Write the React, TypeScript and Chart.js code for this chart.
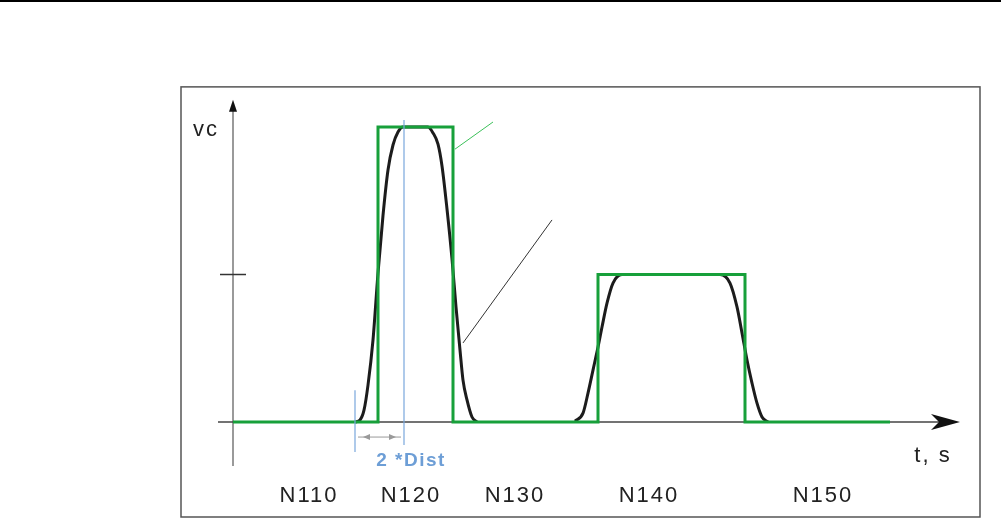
import React, { useEffect, useRef } from "react";
import { Chart, registerables } from "chart.js";
Chart.register(...registerables);

// Commanded velocity (green step profile): time, value
const commandT = [0, 14.5, 14.5, 22, 22, 36.5, 36.5, 51.2, 51.2, 65.7];
const commandV = [0, 0, 1, 1, 0, 0, 0.5, 0.5, 0, 0];

// Actual (smoothed) velocity, first block
const actual1T = [12.2, 12.7, 13.1, 13.5, 14.0, 14.5, 15.0, 15.5, 16.0, 16.5, 17.0, 19.5, 20.0, 20.5, 20.9, 21.4, 21.9, 22.3, 22.7, 23.0, 23.4, 23.9, 24.4];
const actual1V = [0, 0.007, 0.04, 0.125, 0.278, 0.505, 0.7, 0.854, 0.939, 0.983, 1, 1, 0.98, 0.942, 0.868, 0.722, 0.553, 0.39, 0.244, 0.142, 0.075, 0.017, 0];
// Actual velocity, second block
const actual2T = [34.2, 35.0, 35.5, 36.0, 36.5, 36.9, 37.4, 38.0, 38.9, 48.7, 49.7, 50.4, 50.9, 51.4, 51.9, 52.4, 52.9, 53.5];
const actual2V = [0.003, 0.03, 0.098, 0.176, 0.254, 0.322, 0.403, 0.471, 0.5, 0.5, 0.471, 0.39, 0.302, 0.21, 0.132, 0.064, 0.017, 0];

// Block labels along the time axis
const blockLabels = ["N110", "N120", "N130", "N140", "N150"];
const blockCenters = [7.6, 17.8, 28.2, 41.6, 59.0];
const blockLabelV = -0.25;

// Axis extents / annotations (data units)
const axisYRange = [-0.149, 1.092];
const axisXRange = [-1.5, 72.7];
const yTickV = 0.5;
const distStartT = 12.2;
const distEndT = 17.1;

const X_MIN = -23.3;
const X_MAX = 76.8;
const Y_MIN = -0.3525;
const Y_MAX = 1.4305;

const GREEN = "#17a03a";
const BLACK = "#1c1c1c";
const BLUE = "#7aa7dc";
const BLUE_TEXT = "#6d9ed6";
const FONT = "'Liberation Sans', Arial, sans-serif";

const overlay = {
  id: "overlay",
  beforeDatasetsDraw(chart: any) {
    const { ctx } = chart;
    const X = (t: number) => chart.scales.x.getPixelForValue(t);
    const Y = (v: number) => chart.scales.y.getPixelForValue(v);
    ctx.save();
    // top rule of page
    ctx.fillStyle = "#000";
    ctx.fillRect(0, 0, chart.width, 2);
    // frame
    ctx.strokeStyle = "#555";
    ctx.lineWidth = 1.5;
    const fl = X(-5.2), fr = X(74.7), ft = Y(1.136), fb = Y(-0.322);
    ctx.strokeRect(fl, ft, fr - fl, fb - ft);

    // y axis
    ctx.strokeStyle = "#9a9a9a";
    ctx.lineWidth = 2;
    ctx.beginPath();
    ctx.moveTo(X(0), Y(axisYRange[0]));
    ctx.lineTo(X(0), Y(axisYRange[1]) + 6);
    ctx.stroke();
    // y arrowhead
    ctx.fillStyle = "#111";
    const tipY = Y(axisYRange[1]);
    ctx.beginPath();
    ctx.moveTo(X(0), tipY);
    ctx.lineTo(X(0) - 4, tipY + 12);
    ctx.lineTo(X(0) + 4, tipY + 12);
    ctx.closePath();
    ctx.fill();
    // y tick
    ctx.strokeStyle = "#333";
    ctx.lineWidth = 1.5;
    ctx.beginPath();
    ctx.moveTo(X(-1.3), Y(yTickV));
    ctx.lineTo(X(1.3), Y(yTickV));
    ctx.stroke();

    // x axis
    ctx.strokeStyle = "#444";
    ctx.lineWidth = 1.5;
    ctx.beginPath();
    ctx.moveTo(X(axisXRange[0]), Y(0));
    ctx.lineTo(X(axisXRange[1]) - 20, Y(0));
    ctx.stroke();
    const tipX = X(axisXRange[1]);
    ctx.fillStyle = "#111";
    ctx.beginPath();
    ctx.moveTo(tipX, Y(0));
    ctx.lineTo(tipX - 29, Y(0) - 8);
    ctx.lineTo(tipX - 21, Y(0));
    ctx.lineTo(tipX - 29, Y(0) + 8);
    ctx.closePath();
    ctx.fill();

    // leader lines
    ctx.strokeStyle = "#3cc05a";
    ctx.lineWidth = 1;
    ctx.beginPath();
    ctx.moveTo(X(22.2), Y(0.925));
    ctx.lineTo(X(26.0), Y(1.017));
    ctx.stroke();
    ctx.strokeStyle = "#333";
    ctx.beginPath();
    ctx.moveTo(X(23.0), Y(0.268));
    ctx.lineTo(X(31.9), Y(0.685));
    ctx.stroke();
    ctx.restore();
  },
  afterDatasetsDraw(chart: any) {
    const { ctx } = chart;
    const X = (t: number) => chart.scales.x.getPixelForValue(t);
    const Y = (v: number) => chart.scales.y.getPixelForValue(v);
    ctx.save();
    // blue distance lines
    ctx.strokeStyle = BLUE;
    ctx.lineWidth = 1.2;
    ctx.beginPath();
    ctx.moveTo(X(distStartT), Y(0.108));
    ctx.lineTo(X(distStartT), Y(-0.102));
    ctx.moveTo(X(distEndT), Y(1.024));
    ctx.lineTo(X(distEndT), Y(-0.078));
    ctx.stroke();
    // dimension arrow
    const ay = Y(-0.051);
    ctx.strokeStyle = "#9a9a9a";
    ctx.lineWidth = 1;
    ctx.beginPath();
    ctx.moveTo(X(distStartT + 0.3), ay);
    ctx.lineTo(X(distEndT - 0.3), ay);
    ctx.stroke();
    ctx.fillStyle = "#9a9a9a";
    const la = X(distStartT + 0.8), ra = X(distEndT - 0.8);
    ctx.beginPath();
    ctx.moveTo(la, ay);
    ctx.lineTo(la + 7, ay - 3);
    ctx.lineTo(la + 7, ay + 3);
    ctx.closePath();
    ctx.fill();
    ctx.beginPath();
    ctx.moveTo(ra, ay);
    ctx.lineTo(ra - 7, ay - 3);
    ctx.lineTo(ra - 7, ay + 3);
    ctx.closePath();
    ctx.fill();

    // texts
    ctx.textAlign = "center";
    ctx.textBaseline = "middle";
    try { (ctx as any).letterSpacing = "1.5px"; } catch (e) {}
    ctx.fillStyle = BLUE_TEXT;
    ctx.font = "bold 19px 'Liberation Sans', Arial, sans-serif";
    ctx.fillText("2 *Dist", X(17.8), Y(-0.132));

    try { (ctx as any).letterSpacing = "2px"; } catch (e) {}
    ctx.fillStyle = "#222";
    ctx.font = "22px " + FONT;
    blockLabels.forEach((lab, i) => {
      ctx.fillText(lab, X(blockCenters[i]), Y(blockLabelV));
    });
    ctx.fillText("t, s", X(70.0), Y(-0.115));
    ctx.fillText("vc", X(-2.7), Y(0.99));
    ctx.restore();
  },
};

export default function App() {
  const ref = useRef<HTMLCanvasElement | null>(null);
  useEffect(() => {
    if (!ref.current) return;
    const command = commandT.map((t, i) => ({ x: t, y: commandV[i] }));
    const actual = [
      ...actual1T.map((t, i) => ({ x: t, y: actual1V[i] as number | null })),
      { x: 29, y: null },
      ...actual2T.map((t, i) => ({ x: t, y: actual2V[i] as number | null })),
    ];
    const chart = new Chart(ref.current, {
      type: "line",
      data: {
        datasets: [
          {
            label: "command",
            data: command,
            borderColor: GREEN,
            borderWidth: 3,
            pointRadius: 0,
            tension: 0,
            fill: false,
          },
          {
            label: "actual",
            data: actual as any,
            borderColor: BLACK,
            borderWidth: 3,
            pointRadius: 0,
            cubicInterpolationMode: "monotone",
            spanGaps: false,
            fill: false,
          },
        ],
      },
      options: {
        animation: false,
        responsive: false,
        devicePixelRatio: 1,
        layout: { padding: 0 },
        plugins: { legend: { display: false }, tooltip: { enabled: false } },
        scales: {
          x: { type: "linear", min: X_MIN, max: X_MAX, display: false },
          y: { type: "linear", min: Y_MIN, max: Y_MAX, display: false },
        },
      },
      plugins: [overlay],
    });
    return () => chart.destroy();
  }, []);
  return (
    <div style={{ position: "fixed", left: 0, top: 0, width: 1001, height: 526, background: "#fff" }}>
      <canvas ref={ref} width={1001} height={526} />
    </div>
  );
}
